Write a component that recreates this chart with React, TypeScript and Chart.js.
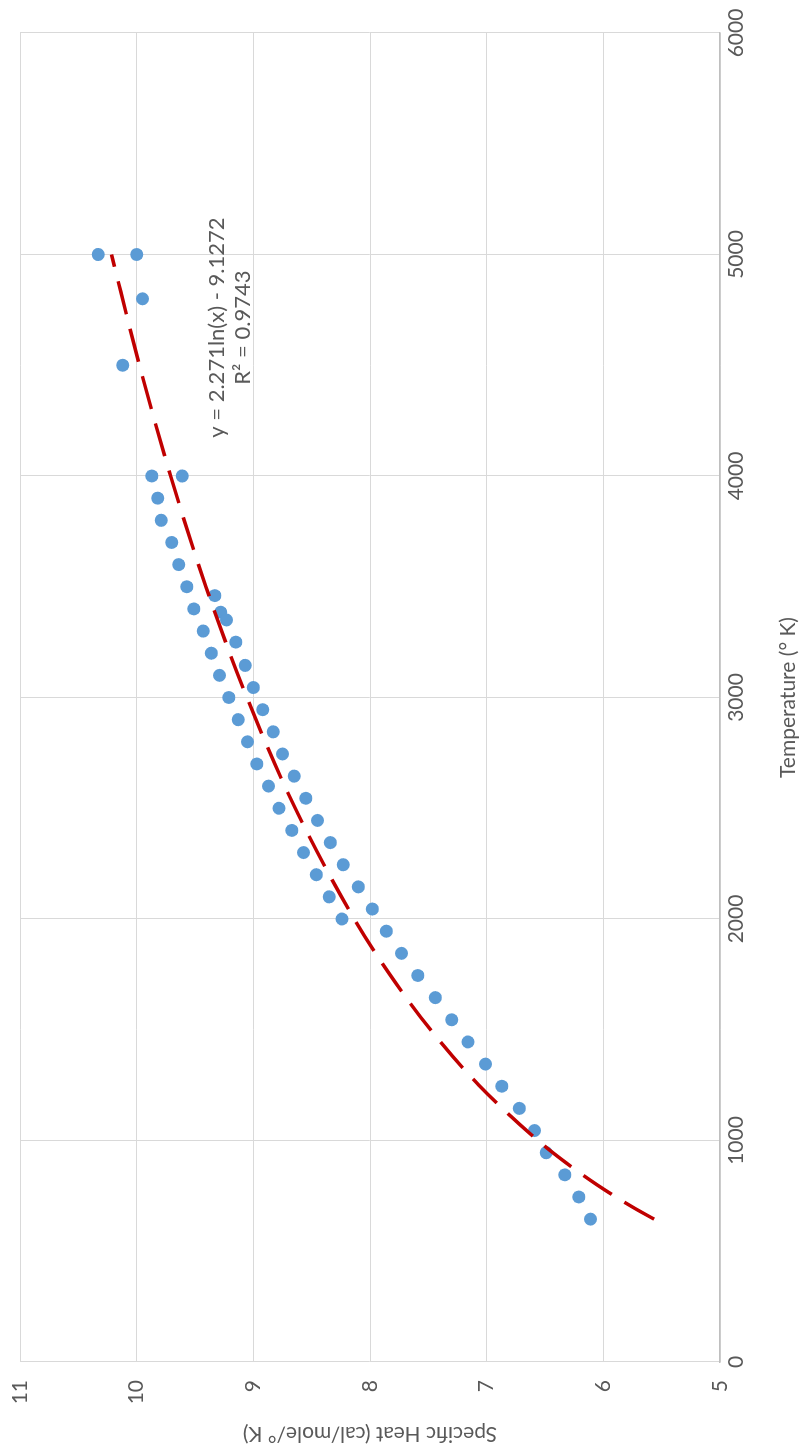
import React, { useEffect, useRef } from "react";
import { Chart, registerables } from "chart.js";

Chart.register(...registerables);

// Measured data (Temperature in °K, Specific Heat in cal/mole/°K)
const temperatures = [
  5000, 5000, 4800, 4500, 4000, 4000, 3900, 3800, 3700, 3600, 3500, 3400, 3300, 3200, 3100, 3000,
  2900, 2800, 2700, 2600, 2500, 2400, 2300, 2200, 2100, 2000,
  3460, 3385, 3350, 3250, 3145, 3045, 2945, 2845, 2745, 2645, 2545, 2445, 2345, 2245, 2145, 2045,
  1945, 1845, 1745, 1645, 1545, 1445, 1345, 1245, 1145, 1045, 945, 845, 745, 645,
];
const specificHeat = [
  10.33, 10.0, 9.95, 10.12, 9.87, 9.61, 9.82, 9.79, 9.7, 9.64, 9.57, 9.51, 9.43, 9.36, 9.29, 9.21,
  9.13, 9.05, 8.97, 8.87, 8.78, 8.67, 8.57, 8.46, 8.35, 8.24,
  9.33, 9.28, 9.23, 9.15, 9.07, 9.0, 8.92, 8.83, 8.75, 8.65, 8.55, 8.45, 8.34, 8.23, 8.1, 7.98,
  7.86, 7.73, 7.59, 7.44, 7.3, 7.16, 7.01, 6.87, 6.72, 6.59, 6.49, 6.33, 6.21, 6.11,
];

// Trendline (logarithmic)
const trendTemps = [645, 700, 800, 900, 1000, 1250, 1500, 1750, 2000, 2500, 3000, 3500, 4000, 4500, 5000];
const trendValues = [5.565, 5.751, 6.054, 6.321, 6.56, 7.067, 7.481, 7.831, 8.135, 8.641, 9.055, 9.406, 9.709, 9.976, 10.216];

const xTicks = [0, 1000, 2000, 3000, 4000, 5000, 6000];
const yTicks = [5, 6, 7, 8, 9, 10, 11];

const equationLines = ["y = 2.271ln(x) - 9.1272", "R² = 0.9743"];
const equationAnchor = { t: 4670, lines: [9.31, 9.09] };

const FONT = "Lato, 'Liberation Sans', sans-serif";
const TEXT = "#595959";
const GRID = "#D9D9D9";

export default function App() {
  const ref = useRef<HTMLCanvasElement | null>(null);

  useEffect(() => {
    if (!ref.current) return;
    const bg = {
      id: "bg",
      beforeDraw(chart: any) {
        const c = chart.ctx;
        c.save();
        c.fillStyle = "#ffffff";
        c.fillRect(0, 0, chart.width, chart.height);
        c.restore();
      },
    };
    const eq = {
      id: "eq",
      afterDatasetsDraw(chart: any) {
        const c = chart.ctx;
        const xs = chart.scales.x;
        const ys = chart.scales.y;
        c.save();
        c.fillStyle = TEXT;
        c.font = `22px ${FONT}`;
        c.textAlign = "center";
        c.textBaseline = "middle";
        equationLines.forEach((line, i) => {
          c.fillText(line, xs.getPixelForValue(equationAnchor.t), ys.getPixelForValue(equationAnchor.lines[i]));
        });
        c.restore();
      },
    };
    const chart = new Chart(ref.current, {
      type: "scatter",
      data: {
        datasets: [
          {
            label: "Trend",
            data: trendTemps.map((t, i) => ({ x: t, y: trendValues[i] })),
            showLine: true,
            borderColor: "#C00000",
            borderWidth: 3.5,
            borderDash: [34, 15],
            pointRadius: 0,
            cubicInterpolationMode: "monotone",
            order: 0,
          },
          {
            label: "Specific Heat",
            data: temperatures.map((t, i) => ({ x: t, y: specificHeat[i] })),
            backgroundColor: "#5B9BD5",
            borderWidth: 0,
            pointRadius: 6.5,
            order: 1,
          },
        ],
      },
      options: {
        responsive: false,
        animation: false,
        devicePixelRatio: 1,
        layout: { padding: { left: 0, right: 33, top: 20, bottom: 0 } },
        plugins: { legend: { display: false }, tooltip: { enabled: false } },
        scales: {
          x: {
            type: "linear",
            min: 0,
            max: 6000,
            afterBuildTicks: (s: any) => {
              s.ticks = xTicks.map((v) => ({ value: v }));
            },
            afterFit: (s: any) => {
              s.height = 89;
            },
            ticks: { color: TEXT, font: { family: FONT, size: 21 }, padding: 4, callback: (v: any) => String(v) },
            grid: { color: GRID, lineWidth: 1, drawTicks: false },
            border: { color: "#BFBFBF", width: 1.5 },
            title: {
              display: true,
              text: "Temperature (° K)",
              color: TEXT,
              font: { family: FONT, size: 21 },
              padding: { top: 0, bottom: 8 },
            },
          },
          y: {
            type: "linear",
            min: 5,
            max: 11,
            afterBuildTicks: (s: any) => {
              s.ticks = yTicks.map((v) => ({ value: v }));
            },
            afterFit: (s: any) => {
              s.width = 92;
            },
            ticks: { color: TEXT, font: { family: FONT, size: 21 }, padding: 2, callback: (v: any) => String(v) },
            grid: { color: GRID, lineWidth: 1, drawTicks: true, tickLength: 16, tickColor: "rgba(0,0,0,0)" },
            border: { display: false },
            title: {
              display: true,
              text: "Specific Heat (cal/mole/° K)",
              color: TEXT,
              font: { family: FONT, size: 21 },
              padding: { top: 8, bottom: 0 },
            },
          },
        },
      },
      plugins: [bg, eq],
    } as any);
    return () => chart.destroy();
  }, []);

  return (
    <div style={{ position: "absolute", left: 0, top: 0, width: 809, height: 1454, overflow: "hidden", background: "#fff" }}>
      <div
        style={{
          position: "absolute",
          left: 0,
          top: 0,
          width: 1454,
          height: 809,
          transformOrigin: "0 0",
          transform: "translateY(1454px) rotate(-90deg)",
        }}
      >
        <canvas ref={ref} width={1454} height={809} style={{ width: 1454, height: 809, display: "block" }} />
      </div>
    </div>
  );
}
